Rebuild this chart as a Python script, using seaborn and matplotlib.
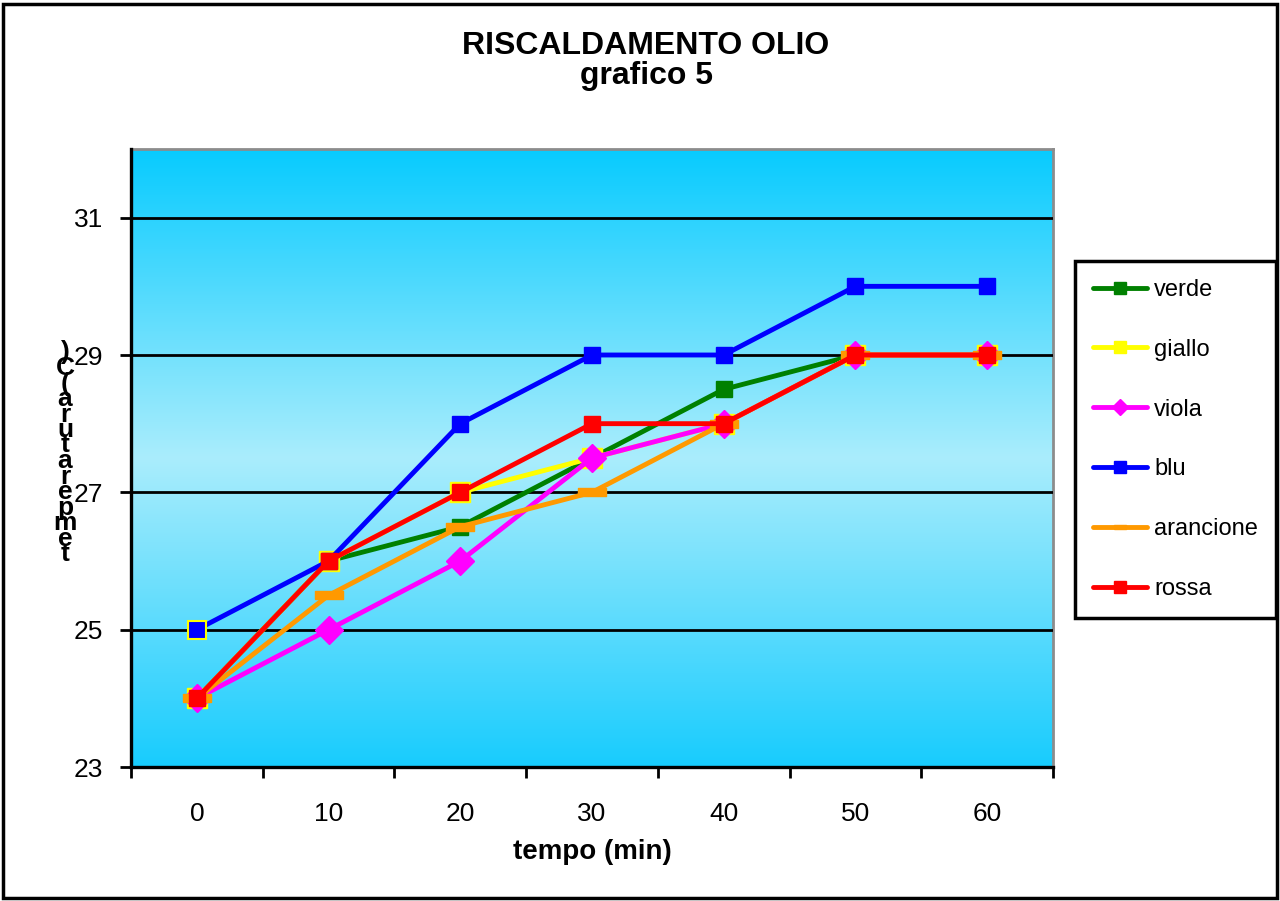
import numpy as np
import pandas as pd
import matplotlib
matplotlib.use("Agg")
import matplotlib.pyplot as plt
from matplotlib.patches import Rectangle
import seaborn as sns

# Oil heating: temperature readings every 10 minutes for six samples
tempo = [0, 10, 20, 30, 40, 50, 60]
verde = [24, 26, 26.5, 27.5, 28.5, 29, 29]
giallo = [24, 26, 27, 27.5, 28, 29, 29]
viola = [24, 25, 26, 27.5, 28, 29, 29]
blu = [25, 26, 28, 29, 29, 30, 30]
arancione = [24, 25.5, 26.5, 27, 28, 29, 29]
rossa = [24, 26, 27, 28, 28, 29, 29]

serie = ["verde", "giallo", "viola", "blu", "arancione", "rossa"]
valori = [verde, giallo, viola, blu, arancione, rossa]
tick_tempo = ["0", "10", "20", "30", "40", "50", "60"]
tick_temp = [23, 25, 27, 29, 31]

titolo = "RISCALDAMENTO OLIO\ngrafico 5"
etichetta_x = "tempo (min)"
etichetta_y = "temperatura (C)"

sns.set_theme(style="white")
plt.rcParams["font.family"] = ["Liberation Sans", "DejaVu Sans"]

df = pd.DataFrame({
    "tempo": tempo * len(serie),
    "temperatura": sum(valori, []),
    "serie": np.repeat(serie, len(tempo)),
})

# flat horizontal bar used as the orange marker
barra = [(-1, -0.28), (1, -0.28), (1, 0.28), (-1, 0.28), (-1, -0.28)]

stili = {
    "verde": dict(color="#008000", marker="s", markersize=11.5, mec="#008000"),
    "giallo": dict(color="#ffff00", marker="s", markersize=14.5, mec="#ffff00"),
    "viola": dict(color="#ff00ff", marker="D", markersize=14, mec="#ff00ff"),
    "blu": dict(color="#0000ff", marker="s", markersize=12, mec="#0000ff"),
    "arancione": dict(color="#ff9900", marker=barra, markersize=20, mec="#ff9900"),
    "rossa": dict(color="#ff0000", marker="s", markersize=12, mec="#ff0000"),
}

fig = plt.figure(figsize=(12.8, 9.01), dpi=100)
fig.patch.set_facecolor("white")
ax = fig.add_axes([131 / 1280, 1 - 767 / 901, 922 / 1280, 618 / 901])

# vertical two-tone gradient, lightest in the middle
n = 400
t = np.linspace(0, 1, n)
w = 1 - np.abs(2 * t - 1)
top = np.array([8, 203, 255]) / 255
bottom = np.array([24, 204, 254]) / 255
centre = np.array([170, 237, 252]) / 255
edge = np.where(t[:, None] < 0.5, top, bottom)
grad = edge + (centre - edge) * w[:, None]
ax.imshow(grad[:, None, :], extent=[-5, 65, 23, 32], aspect="auto", zorder=0,
          interpolation="bilinear")

for nome in serie:
    s = stili[nome]
    sns.lineplot(data=df[df["serie"] == nome], x="tempo", y="temperatura",
                 ax=ax, color=s["color"], marker=s["marker"],
                 markersize=s["markersize"], markeredgecolor=s["mec"],
                 markeredgewidth=1, linewidth=3.5, label=nome, legend=False,
                 zorder=3)

# first blue point carries a yellow outline
ax.plot([tempo[0]], [blu[0]], linestyle="none", marker="s", markersize=12.5,
        markerfacecolor="#0000ff", markeredgecolor="#ffff00",
        markeredgewidth=1.5, zorder=3.5)

ax.set_xlim(-5, 65)
ax.set_ylim(23, 32)

ax.set_xticks(np.arange(-5, 66, 10))
ax.set_xticklabels([])
ax.set_xticks(tempo, minor=True)
ax.set_xticklabels(tick_tempo, minor=True)
ax.tick_params(axis="x", which="major", direction="out", length=8, width=2,
               color="black", bottom=True)
ax.tick_params(axis="x", which="minor", length=0, pad=25, labelsize=19,
               labelcolor="black", bottom=True)

ax.set_yticks(tick_temp)
ax.set_yticklabels([str(v) for v in tick_temp])
ax.tick_params(axis="y", which="major", direction="out", length=8, width=2,
               color="black", pad=12, labelsize=19, labelcolor="black", left=True)

ax.yaxis.grid(True, color="black", linewidth=2)
ax.xaxis.grid(False)
ax.set_axisbelow(False)
for gl in ax.get_ygridlines():
    gl.set_zorder(1)

for lato in ["left", "bottom"]:
    ax.spines[lato].set_color("black")
    ax.spines[lato].set_linewidth(2.4)
    ax.spines[lato].set_zorder(4)
for lato in ["top", "right"]:
    ax.spines[lato].set_color("#8c8c8c")
    ax.spines[lato].set_linewidth(2)

ax.set_xlabel(etichetta_x, fontsize=20, fontweight="bold", color="black")
ax.xaxis.set_label_coords(0.5, -0.1375)
ax.xaxis.label.set_va("center")
ax.set_ylabel("")

# y label written as upright characters stacked bottom to top
caratteri = [c for c in etichetta_y if c != " "]
for i, c in enumerate(caratteri):
    fig.text(65 / 1280, 1 - (561 - 15.5 * i) / 901, c, ha="center",
             va="baseline", fontsize=19, fontweight="bold", color="black")

fig.text(646 / 1280, 1 - 61 / 901, titolo, ha="center", va="center",
         fontsize=23, fontweight="bold", color="black", linespacing=1.0)

handles, labels = ax.get_legend_handles_labels()
handles = [h for h, l in zip(handles, labels) if l in serie]
labels = [l for l in labels if l in serie]
leg = fig.legend(handles, labels, loc="upper left",
                 bbox_to_anchor=(1075 / 1280, 1 - 261 / 901),
                 frameon=True, fancybox=False, framealpha=1,
                 edgecolor="black", fontsize=17, labelspacing=1.6,
                 handlelength=2.3, handletextpad=0.3, borderpad=0.76,
                 borderaxespad=0)
leg.get_frame().set_linewidth(2.5)
for h in leg.legend_handles:
    h.set_markersize(8)
    h.set_linewidth(3.5)
for txt in leg.get_texts():
    txt.set_color("black")

fig.patches.append(Rectangle((3 / 1280, 3 / 901), 1274 / 1280, 894 / 901,
                             transform=fig.transFigure, fill=False,
                             edgecolor="black", linewidth=2.5))

fig.savefig("out.png", dpi=100, facecolor="white")
